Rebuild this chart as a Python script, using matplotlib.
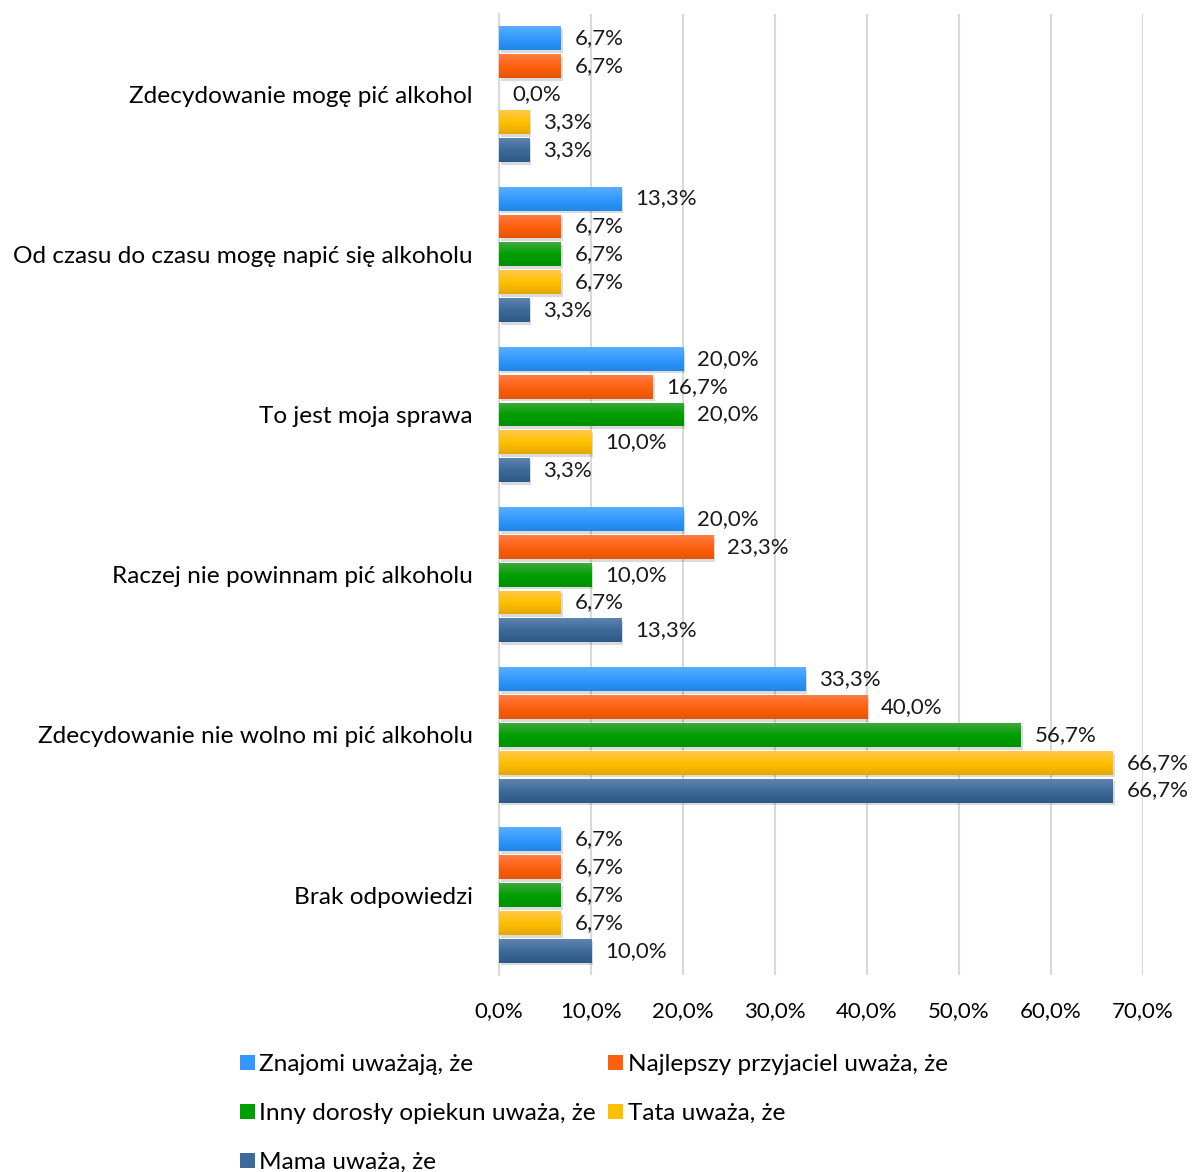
import matplotlib
matplotlib.use("Agg")
import matplotlib.pyplot as plt
import matplotlib.patheffects as pe
from matplotlib.colors import LinearSegmentedColormap
import numpy as np

plt.rcParams['font.family'] = ['Lato', 'DejaVu Sans']

categories = [
    "Zdecydowanie mogę pić alkohol",
    "Od czasu do czasu mogę napić się alkoholu",
    "To jest moja sprawa",
    "Raczej nie powinnam pić alkoholu",
    "Zdecydowanie nie wolno mi pić alkoholu",
    "Brak odpowiedzi",
]
series_names = [
    "Znajomi uważają, że",
    "Najlepszy przyjaciel uważa, że",
    "Inny dorosły opiekun uważa, że",
    "Tata uważa, że",
    "Mama uważa, że",
]
znajomi = [6.7, 13.3, 20.0, 20.0, 33.3, 6.7]
przyjaciel = [6.7, 6.7, 16.7, 23.3, 40.0, 6.7]
opiekun = [0.0, 6.7, 20.0, 10.0, 56.7, 6.7]
tata = [3.3, 6.7, 10.0, 6.7, 66.7, 6.7]
mama = [3.3, 3.3, 3.3, 13.3, 66.7, 10.0]
series = [znajomi, przyjaciel, opiekun, tata, mama]
xticks = [0, 10, 20, 30, 40, 50, 60, 70]

# (top, mid, bottom) colours for gradient
grads = [
    ("#5AAEFF", "#3399FF", "#1E86E6"),
    ("#FF7E44", "#FF6010", "#E65400"),
    ("#3FA83F", "#00A000", "#008F00"),
    ("#FFC84A", "#FFC000", "#E6A800"),
    ("#5E84AC", "#3D6A98", "#2C5986"),
]

fig = plt.figure(figsize=(11.92, 11.72), dpi=100)
ax = fig.add_axes([0.4186, 0.168, 0.5403, 0.820])

n = len(categories)
step = 0.174
h = 0.149
y = np.arange(n)
for i, (vals, name, g) in enumerate(zip(series, series_names, grads)):
    pos = y + (i - 2) * step
    bars = ax.barh(pos, vals, height=h, color=g[1], label=name, zorder=3,
                   path_effects=[pe.SimplePatchShadow(offset=(1.5, -2), alpha=0.14, shadow_rgbFace='black'), pe.Normal()])
    cmap = LinearSegmentedColormap.from_list("g%d" % i, [g[0], g[1], g[2]])
    for b in bars:
        if b.get_width() <= 0:
            continue
        x0, y0, w, hh = b.get_x(), b.get_y(), b.get_width(), b.get_height()
        grad = np.linspace(0, 1, 64).reshape(-1, 1)
        im = ax.imshow(grad, cmap=cmap, aspect='auto', extent=(x0, x0 + w, y0 + hh, y0),
                       origin='upper', zorder=4, interpolation='bicubic')
        im.set_clip_path(b)
    ax.bar_label(bars, labels=[("%.1f%%" % v).replace('.', ',') for v in vals],
                 padding=10, fontsize=16, color='#1a1a1a', zorder=5)

ax.set_ylim(n - 0.5, -0.5)
ax.set_xlim(0, 70)
ax.set_xticks(xticks)
ax.set_xticklabels([("%.1f%%" % t).replace('.', ',') for t in xticks], fontsize=16)
ax.set_yticks(y)
ax.set_yticklabels(categories, fontsize=17.6)
ax.tick_params(axis='both', length=0)
ax.tick_params(axis='x', pad=19)
ax.tick_params(axis='y', pad=19)
ax.grid(axis='x', color='#D9D9D9', linewidth=1.5, zorder=0)
ax.set_axisbelow(True)
for s in ['top', 'right', 'bottom']:
    ax.spines[s].set_visible(False)
ax.spines['left'].set_color('#D9D9D9')
ax.spines['left'].set_linewidth(1.5)

handles, labels = ax.get_legend_handles_labels()
order = [0, 2, 4, 1, 3]
leg = fig.legend([handles[k] for k in order], [labels[k] for k in order],
                 loc='upper left', bbox_to_anchor=(0.193, 0.109), ncol=2, frameon=False,
                 fontsize=17.6, handlelength=0.6, handleheight=0.6, handletextpad=0.2,
                 columnspacing=0.5, labelspacing=1.15, borderaxespad=0)
for hnd in leg.legend_handles:
    hnd.set_path_effects([])

fig.savefig("out.png", dpi=100)
